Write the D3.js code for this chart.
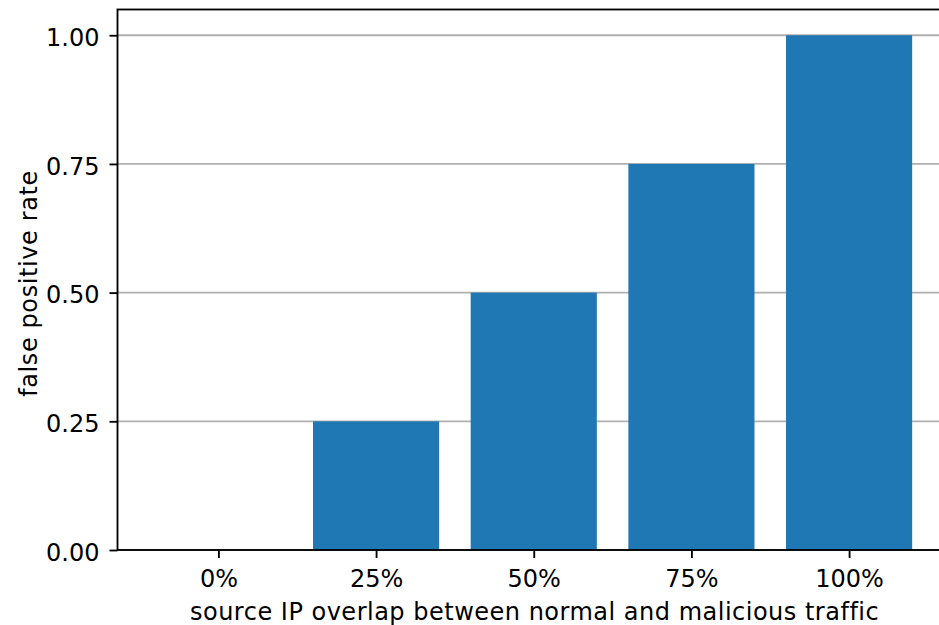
<!DOCTYPE html>
<html>
<head>
<meta charset="utf-8">
<script src="https://cdn.jsdelivr.net/npm/d3@7"></script>
<style>
  html, body { margin: 0; padding: 0; background: #fff; }
  svg { display: block; font-family: "DejaVu Sans", sans-serif; }
</style>
</head>
<body>
<svg id="chart" width="939" height="625"></svg>
<script>
// Overlap levels and the false positive rate measured at each level
const categories = ["0%", "25%", "50%", "75%", "100%"];
const fpRate = [0.0, 0.25, 0.5, 0.75, 1.0];
const yTicks = [0.0, 0.25, 0.5, 0.75, 1.0];

const xLabel = "source IP overlap between normal and malicious traffic";
const yLabel = "false positive rate";

const svg = d3.select("#chart");

// Plot area (the right edge of the axes box lies just past the canvas)
const plotLeft = 117.5, plotRight = 950, plotTop = 9.5, plotBottom = 550;
const lw = 1.85, fontSize = 24;

const x = d3.scaleLinear().domain([-0.64, categories.length - 1 + 0.64]).range([plotLeft, plotRight]);
const y = d3.scaleLinear().domain([0, 1.05]).range([plotBottom, plotTop]);
const barW = x(0.8) - x(0);

// Horizontal grid lines, under the bars
svg.append("g")
  .selectAll("line")
  .data(yTicks)
  .join("line")
  .attr("x1", plotLeft).attr("x2", plotRight)
  .attr("y1", d => y(d)).attr("y2", d => y(d))
  .attr("stroke", "#b0b0b0")
  .attr("stroke-width", lw);

// Bars
svg.append("g")
  .selectAll("rect")
  .data(fpRate)
  .join("rect")
  .attr("x", (d, i) => x(i) - barW / 2)
  .attr("width", barW)
  .attr("y", d => y(d))
  .attr("height", d => y(0) - y(d))
  .attr("fill", "#1f77b4");

// Axes
const yAxis = d3.axisLeft(y)
  .tickValues(yTicks)
  .tickFormat(d3.format(".2f"))
  .tickSize(8)
  .tickPadding(10);
const gy = svg.append("g").attr("transform", `translate(${plotLeft},0)`).call(yAxis);
gy.selectAll(".tick text").attr("dy", "0.42em");

const xAxis = d3.axisBottom(x)
  .tickValues(d3.range(categories.length))
  .tickFormat(i => categories[i])
  .tickSize(8)
  .tickPadding(11.5);
const gx = svg.append("g").attr("transform", `translate(0,${plotBottom})`).call(xAxis);

[gx, gy].forEach(g => {
  g.select(".domain").remove();
  g.selectAll(".tick line").attr("stroke", "#000").attr("stroke-width", lw);
  g.selectAll(".tick text")
    .attr("fill", "#000")
    .style("font-size", fontSize + "px")
    .style("font-family", "'DejaVu Sans', sans-serif");
});

// Axes box spines
svg.append("rect")
  .attr("x", plotLeft).attr("y", plotTop)
  .attr("width", plotRight - plotLeft).attr("height", plotBottom - plotTop)
  .attr("fill", "none")
  .attr("stroke", "#000")
  .attr("stroke-width", lw)
  .attr("stroke-linecap", "square");

// Axis titles
svg.append("text")
  .attr("x", 534.6)
  .attr("y", 619.5)
  .attr("text-anchor", "middle")
  .style("font-size", fontSize + "px")
  .style("letter-spacing", "0.5px")
  .text(xLabel);

svg.append("text")
  .attr("transform", `translate(37,283.5) rotate(-90)`)
  .attr("text-anchor", "middle")
  .style("font-size", fontSize + "px")
  .style("letter-spacing", "0.6px")
  .text(yLabel);
</script>
</body>
</html>
